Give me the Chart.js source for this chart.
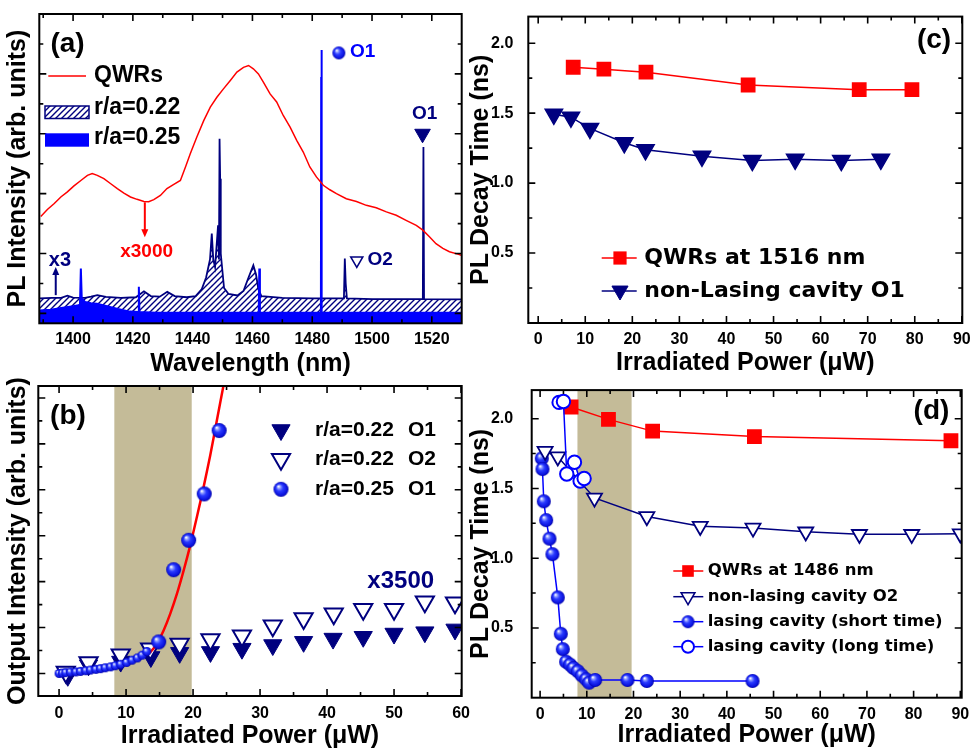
<!DOCTYPE html>
<html><head><meta charset="utf-8">
<script src="https://cdn.jsdelivr.net/npm/chart.js@4.4.1/dist/chart.umd.min.js"></script>
<style>
html,body{margin:0;padding:0;background:#fff;overflow:hidden;width:970px;height:748px;position:relative;}
canvas{position:absolute;}
</style></head><body>
<canvas id="ca" width="485" height="380" style="left:0;top:0"></canvas>
<canvas id="cc" width="520" height="380" style="left:460px;top:0"></canvas>
<canvas id="cb" width="485" height="378" style="left:0;top:370px"></canvas>
<canvas id="cd" width="520" height="378" style="left:460px;top:370px"></canvas>
<script>
// ================= DATA =================
// Panel (a): PL spectra (wavelength nm, intensity arb. units)
const qwrWl = [1389.2,1391.4,1393.7,1395.9,1398.1,1400.3,1402.6,1404.8,1406.4,1408.1,1410.3,1412.6,1414.8,1417.0,1419.2,1421.4,1423.7,1425.3,1427.0,1429.2,1431.4,1433.7,1435.9,1437.6,1439.2,1441.4,1443.7,1445.9,1448.1,1450.3,1452.6,1454.8,1457.0,1458.7,1460.3,1462.0,1463.7,1465.9,1468.1,1470.3,1472.6,1474.8,1477.0,1479.2,1481.4,1483.7,1485.9,1488.1,1491.4,1494.8,1498.1,1501.4,1504.8,1508.1,1511.4,1514.8,1517.0,1519.2,1521.4,1523.7,1525.9,1528.7,1529.9];
const qwrInt = [3.24,3.47,3.67,3.89,4.06,4.26,4.44,4.61,4.67,4.61,4.50,4.33,4.17,4.02,3.89,3.81,3.74,3.73,3.80,3.94,4.17,4.31,4.44,4.89,5.33,5.89,6.44,6.89,7.22,7.50,7.78,8.06,8.22,8.28,8.17,8.00,7.72,7.33,7.06,6.61,6.22,5.78,5.39,4.89,4.56,4.28,4.13,4.00,3.83,3.74,3.61,3.53,3.39,3.28,3.11,2.94,2.78,2.56,2.33,2.17,2.06,1.98,1.94];
const r022Wl = [1388.7,1393,1396,1398.1,1400,1404,1406,1408.1,1411,1416,1421,1423.7,1426,1429,1431.5,1434,1438,1441,1443,1444.5,1445.8,1446.4,1446.9,1447.5,1448.5,1448.8,1449.0,1449.2,1449.4,1450.5,1452,1455,1457,1458.5,1460.3,1461.2,1462,1463,1470,1480,1490.6,1490.9,1491.2,1491.6,1500,1510,1517.0,1517.2,1517.4,1530];
const r022Int = [0.50,0.52,0.52,0.59,0.53,0.52,0.56,0.61,0.55,0.52,0.54,0.74,0.58,0.56,0.72,0.58,0.54,0.58,0.80,1.20,1.80,2.67,1.80,1.55,2.94,1.80,5.83,4.50,2.00,0.85,0.65,0.60,0.75,1.15,1.61,1.30,0.80,0.58,0.52,0.50,0.50,1.83,1.00,0.50,0.48,0.48,0.48,5.56,0.48,0.47];
const r025Wl = [1388.7,1392.6,1396,1400,1402.3,1402.6,1402.9,1404,1406,1408,1411,1415,1419,1421.8,1422.0,1422.2,1428,1462.1,1462.3,1462.5,1482.9,1483.0,1483.1,1483.2,1530];
const r025Int = [0.10,0.12,0.18,0.24,0.28,1.50,0.50,0.38,0.34,0.32,0.25,0.15,0.06,0.05,0.89,0.05,0.02,0.02,1.50,0.02,0.02,7.90,8.80,0.02,0.02];
const aXLabels = [1400,1420,1440,1460,1480,1500,1520];
const aXMinor = [1390,1410,1430,1450,1470,1490,1510];
const aYMajor = [0,2,4,6,8];
const aYMinor = [1,3,5,7,9];

// Panel (b): output intensity vs irradiated power
const bSph025Px = [0,0.5,1,1.7,2.5,3.2,4,4.7,5.5,6.2,6.9,7.7,8.4,9.2,10.1,10.9,11.7,12.4,13.1];
const bSph025Int = [0,0.1,0.2,0.3,0.35,0.45,0.6,0.75,0.9,1.05,1.25,1.45,1.7,2.0,2.4,2.9,3.4,4.0,4.8];
const bBig025Px = [14.87,17.1,19.34,21.67,23.9];
const bBig025Int = [6.88,22.6,29.0,39.1,52.9];
const bFitPx = [13.5,13.88,14.63,15.62,16.6,17.6,18.6,19.58,20.57,21.57,22.56,23.55,24.54];
const bFitInt = [4.5,5.07,6.52,9.42,13.04,17.39,22.46,27.9,34.06,40.58,47.46,55.07,62.68];
const bO1Px = [1.3,4.4,9.2,13.7,18.0,22.6,27.3,31.9,36.5,40.9,45.4,50.0,54.6,59.1];
const bO1Int = [-0.5,1.8,2.6,3.6,4.5,4.7,5.4,6.2,6.9,7.6,8.0,8.7,9.0,9.6];
const bO2Px = [1.0,4.4,9.2,13.6,18.0,22.6,27.3,31.9,36.5,41.0,45.4,50.0,54.6,59.1];
const bO2Int = [0.3,2.4,4.1,5.4,6.4,7.4,8.2,10.4,12.0,13.0,14.0,14.0,15.6,15.4];
const bShade = [8.25, 19.8];
const bXLabels = [0,10,20,30,40,50,60];
const bXMinor = [5,15,25,35,45,55];
const bYMajor = [0,10,20,30,40,50,60];
const bYMinor = [5,15,25,35,45,55];

// Panel (c): PL decay time vs power
const cQwrPx = [7.44,13.96,22.9,44.6,68.2,79.4];
const cQwrT = [1.828,1.814,1.793,1.701,1.668,1.668];
const cO1Px = [3.33,6.95,10.99,18.3,22.8,34.8,45.5,54.6,64.4,72.8];
const cO1T = [1.492,1.471,1.391,1.288,1.238,1.191,1.161,1.170,1.161,1.170];

// Panel (d): PL decay time vs power
const dQwrPx = [6.64,14.64,24.1,45.9,88.0];
const dQwrT = [2.084,1.995,1.911,1.872,1.842];
const dO2Px = [1.07,3.79,11.64,22.86,34.3,45.6,56.9,68.4,79.6,90.0];
const dO2T = [1.767,1.727,1.432,1.299,1.229,1.217,1.189,1.171,1.171,1.175];
const dShortPx = [0.36,0.5,0.79,1.29,2.0,2.64,3.79,4.43,4.86,5.57,6.43,7.14,8.07,8.93,9.86,10.5,11.79,18.71,22.86,45.5];
const dShortT = [1.716,1.639,1.408,1.273,1.140,1.029,0.719,0.458,0.348,0.258,0.237,0.213,0.190,0.160,0.132,0.108,0.127,0.127,0.120,0.120];
const dLongPx = [4.07,5.0,5.71,7.36,8.57,9.43];
const dLongT = [2.117,2.123,1.604,1.688,1.553,1.571];
const dShade = [8.0, 19.6];

const cdXLabels = [0,10,20,30,40,50,60,70,80,90];
const cdXMinor = [5,15,25,35,45,55,65,75,85];
const cdYLabels = [0.5,1.0,1.5,2.0];
const cdYMinor = [0.25,0.75,1.25,1.75];

// ================= STYLE =================
const NAVY = '#00007f', BLUE = '#0000ff', RED = '#ff0000', SHADE = '#c4bb98';
const ARIAL = '"Liberation Sans", Arial, sans-serif';
const VERD = '"DejaVu Sans", Verdana, sans-serif';
const tickFont = { family: ARIAL, size: 16, weight: 'bold' };
const titleFont = { family: ARIAL, size: 25, weight: 'bold', lineHeight: 1 };

const pts = (xs, ys) => xs.map((x, i) => ({ x: x, y: ys[i] }));

function makeSphere(r) {
  const c = document.createElement('canvas');
  const s = Math.ceil(2 * r + 2);
  c.width = s; c.height = s;
  const g = c.getContext('2d');
  const cx = s / 2, cy = s / 2;
  const grad = g.createRadialGradient(cx - 0.35 * r, cy - 0.4 * r, 0.05 * r, cx, cy, r);
  grad.addColorStop(0, '#ffffff');
  grad.addColorStop(0.2, '#8a98ff');
  grad.addColorStop(0.45, '#2a3aff');
  grad.addColorStop(0.85, '#0a12dd');
  grad.addColorStop(1, '#0000a0');
  g.fillStyle = grad;
  g.beginPath(); g.arc(cx, cy, r, 0, Math.PI * 2); g.fill();
  return c;
}
function makeHatchCanvas() {
  const c = document.createElement('canvas');
  c.width = 6; c.height = 6;
  const g = c.getContext('2d');
  g.fillStyle = '#fff'; g.fillRect(0, 0, 6, 6);
  g.strokeStyle = NAVY; g.lineWidth = 1.4;
  g.beginPath();
  g.moveTo(-1, 7); g.lineTo(7, -1);
  g.moveTo(-1, 1); g.lineTo(1, -1);
  g.moveTo(5, 7); g.lineTo(7, 5);
  g.stroke();
  return c;
}
const sphSmall = makeSphere(4.5), sphBig = makeSphere(7.5), sphD = makeSphere(7), sphLeg = makeSphere(6.5);
const hatchCanvas = makeHatchCanvas();
const hatchPattern = document.getElementById('ca').getContext('2d').createPattern(hatchCanvas, 'repeat');

function downTri(ctx, x, y, r, fill, stroke, lw) {
  ctx.beginPath();
  ctx.moveTo(x, y + r);
  ctx.lineTo(x - 0.866 * r, y - 0.5 * r);
  ctx.lineTo(x + 0.866 * r, y - 0.5 * r);
  ctx.closePath();
  if (fill) { ctx.fillStyle = fill; ctx.fill(); }
  if (stroke) { ctx.strokeStyle = stroke; ctx.lineWidth = lw; ctx.stroke(); }
}
function txt(ctx, s, x, y, font, color, align) {
  ctx.font = font; ctx.fillStyle = color; ctx.textAlign = align || 'left'; ctx.textBaseline = 'middle';
  ctx.fillText(s, x, y);
}
function img(ctx, im, x, y) { ctx.drawImage(im, x - im.width / 2, y - im.height / 2); }

function framePlugin(cfg) {
  return {
    id: 'frame' + Math.random().toString(36).slice(2),
    beforeDatasetsDraw(chart) {
      if (!cfg.shade) return;
      const { ctx, chartArea: a, scales: { x } } = chart;
      const x1 = x.getPixelForValue(cfg.shade[0]), x2 = x.getPixelForValue(cfg.shade[1]);
      ctx.save(); ctx.fillStyle = SHADE; ctx.fillRect(x1, a.top, x2 - x1, a.bottom - a.top); ctx.restore();
    },
    afterDatasetsDraw(chart) {
      const { ctx, chartArea: a, scales: { x, y } } = chart;
      ctx.save();
      ctx.strokeStyle = '#000'; ctx.lineWidth = 1.6;
      const MJ = 7, MN = 4;
      const xt = (vals, len) => vals.forEach(v => {
        const p = x.getPixelForValue(v);
        ctx.beginPath(); ctx.moveTo(p, a.bottom); ctx.lineTo(p, a.bottom - len);
        ctx.moveTo(p, a.top); ctx.lineTo(p, a.top + len); ctx.stroke();
      });
      const yt = (vals, len) => vals.forEach(v => {
        const p = y.getPixelForValue(v);
        ctx.beginPath(); ctx.moveTo(a.left, p); ctx.lineTo(a.left + len, p);
        ctx.moveTo(a.right, p); ctx.lineTo(a.right - len, p); ctx.stroke();
      });
      xt(cfg.xMajor, MJ); xt(cfg.xMinor, MN); yt(cfg.yMajor, MJ); yt(cfg.yMinor, MN);
      ctx.lineWidth = 2;
      ctx.strokeRect(a.left, a.top, a.right - a.left, a.bottom - a.top);
      ctx.restore();
    },
    afterDraw(chart) { if (cfg.draw) { chart.ctx.save(); cfg.draw(chart); chart.ctx.restore(); } }
  };
}

function scalesCfg(o) {
  return {
    x: {
      type: 'linear', min: o.xmin, max: o.xmax,
      grid: { display: false }, border: { display: false },
      ticks: { font: tickFont, color: '#000', padding: o.xpad, maxRotation: 0, autoSkip: false, callback: v => String(v) },
      afterBuildTicks: s => { s.ticks = o.xLabels.map(v => ({ value: v })); },
      afterFit: s => { s.height = o.xh; },
      title: { display: true, text: o.xtitle, font: titleFont, color: '#000', padding: { top: 0, bottom: o.xtpad } }
    },
    y: {
      type: 'linear', min: o.ymin, max: o.ymax,
      grid: { display: false }, border: { display: false },
      ticks: { display: !!o.yLabels, font: tickFont, color: '#000', padding: o.ypad || 0, callback: v => Number(v).toFixed(1) },
      afterBuildTicks: s => { s.ticks = (o.yLabels || []).map(v => ({ value: v })); },
      afterFit: s => { s.width = o.yw; },
      title: { display: true, text: o.ytitle, font: titleFont, color: '#000', padding: { top: o.ytpad, bottom: 0 } }
    }
  };
}
const common = (padding) => ({
  responsive: false, animation: false, devicePixelRatio: 1, events: [],
  layout: { padding: padding },
  plugins: { legend: { display: false }, tooltip: { enabled: false } }
});

// ================= PANEL (a) =================
new Chart(document.getElementById('ca'), {
  type: 'line',
  data: { datasets: [
    { data: pts(qwrWl, qwrInt), borderColor: RED, borderWidth: 1.5, pointRadius: 0, fill: false, tension: 0 },
    { data: pts(r025Wl, r025Int), borderColor: BLUE, backgroundColor: BLUE, borderWidth: 2, pointRadius: 0, fill: 'start', tension: 0 },
    { data: pts(r022Wl, r022Int), borderColor: NAVY, backgroundColor: hatchPattern, borderWidth: 1.8, pointRadius: 0, fill: 'start', tension: 0 }
  ]},
  options: Object.assign(common({ left: 0, top: 14, right: 23.3, bottom: 0 }), {
    scales: scalesCfg({ xmin: 1388.7, xmax: 1530, xLabels: aXLabels, xpad: -1.5, xh: 56.7, xtitle: 'Wavelength (nm)', xtpad: 3.5,
      ymin: -0.33, ymax: 10, yw: 39.3, ytitle: 'PL Intensity (arb. units)', ytpad: 5.5 })
  }),
  plugins: [framePlugin({ xMajor: aXLabels, xMinor: aXMinor, yMajor: aYMajor, yMinor: aYMinor,
    draw(chart) {
      const ctx = chart.ctx, X = chart.scales.x, Y = chart.scales.y;
      const px = v => X.getPixelForValue(v), py = v => Y.getPixelForValue(v);
      const F = s => 'bold ' + s + 'px ' + ARIAL;
      txt(ctx, '(a)', 67.5, 44, F(28), '#000', 'center');
      // legend
      ctx.strokeStyle = RED; ctx.lineWidth = 1.5;
      ctx.beginPath(); ctx.moveTo(48.3, 76); ctx.lineTo(86, 76); ctx.stroke();
      txt(ctx, 'QWRs', 94, 76, F(23), '#000');
      ctx.fillStyle = hatchPattern; ctx.fillRect(45, 106, 44, 12.5);
      ctx.strokeStyle = NAVY; ctx.lineWidth = 1.5; ctx.strokeRect(45, 106, 44, 12.5);
      txt(ctx, 'r/a=0.22', 94, 108, F(23), '#000');
      ctx.fillStyle = BLUE; ctx.fillRect(45, 133.3, 44, 13.4);
      txt(ctx, 'r/a=0.25', 94, 138, F(23), '#000');
      // red arrow (x3000)
      ctx.strokeStyle = RED; ctx.fillStyle = RED; ctx.lineWidth = 2;
      const ax = px(1424), ay1 = py(3.71), ay2 = py(2.54);
      ctx.beginPath(); ctx.moveTo(ax, ay1); ctx.lineTo(ax, ay2 - 6); ctx.stroke();
      ctx.beginPath(); ctx.moveTo(ax, ay2); ctx.lineTo(ax - 3.5, ay2 - 8); ctx.lineTo(ax + 3.5, ay2 - 8); ctx.closePath(); ctx.fill();
      txt(ctx, 'x3000', px(1424.6), py(2.05), F(19), RED, 'center');
      // navy arrow (x3)
      ctx.strokeStyle = NAVY; ctx.fillStyle = NAVY;
      const bx = px(1394.2), by1 = py(0.61), by2 = py(1.55);
      ctx.beginPath(); ctx.moveTo(bx, by1); ctx.lineTo(bx, by2 + 6); ctx.stroke();
      ctx.beginPath(); ctx.moveTo(bx, by2); ctx.lineTo(bx - 3.5, by2 + 8); ctx.lineTo(bx + 3.5, by2 + 8); ctx.closePath(); ctx.fill();
      txt(ctx, 'x3', px(1395.6), py(1.78), F(20), NAVY, 'center');
      // mode labels
      img(ctx, sphLeg, px(1488.9), py(8.7));
      txt(ctx, 'O1', px(1492.6), py(8.75), F(19), BLUE);
      txt(ctx, 'O1', px(1517.6), py(6.68), F(19), NAVY, 'center');
      downTri(ctx, px(1516.9), py(6.0), 9, NAVY, NAVY, 1);
      downTri(ctx, px(1494.9), py(1.77), 7, '#fff', NAVY, 1.5);
      txt(ctx, 'O2', px(1498.5), py(1.78), F(19), NAVY);
    } })]
});

// ================= PANEL (b) =================
new Chart(document.getElementById('cb'), {
  type: 'scatter',
  data: { datasets: [
    { data: pts(bSph025Px, bSph025Int), pointStyle: sphSmall, pointRadius: 4.5, showLine: false },
    { data: pts(bBig025Px, bBig025Int), pointStyle: sphBig, pointRadius: 7.5, showLine: false },
    { data: pts(bFitPx, bFitInt), showLine: true, borderColor: RED, borderWidth: 2.5, pointRadius: 0, tension: 0.3 },
    { data: pts(bO2Px, bO2Int), pointStyle: 'triangle', rotation: 180, pointRadius: 10.5, backgroundColor: '#fff', borderColor: NAVY, borderWidth: 2, showLine: false },
    { data: pts(bO1Px, bO1Int), pointStyle: 'triangle', rotation: 180, pointRadius: 10.5, backgroundColor: NAVY, borderColor: NAVY, borderWidth: 1, showLine: false }
  ]},
  options: Object.assign(common({ left: 0, top: 16, right: 23.3, bottom: 0 }), {
    scales: scalesCfg({ xmin: -3.1, xmax: 60.1, xLabels: bXLabels, xpad: -0.5, xh: 52, xtitle: 'Irradiated Power (\u03bcW)', xtpad: -1,
      ymin: -4.9, ymax: 62.6, yw: 38.3, ytitle: 'Output Intensity (arb. units)', ytpad: 5.5 })
  }),
  plugins: [framePlugin({ xMajor: bXLabels, xMinor: bXMinor, yMajor: bYMajor, yMinor: bYMinor, shade: bShade,
    draw(chart) {
      const ctx = chart.ctx, X = chart.scales.x, Y = chart.scales.y;
      const F = s => 'bold ' + s + 'px ' + ARIAL;
      txt(ctx, '(b)', 68, 46, F(28), '#000', 'center');
      downTri(ctx, 281, 60, 10.5, NAVY, NAVY, 1);
      downTri(ctx, 281, 89.3, 10.5, '#fff', NAVY, 2);
      img(ctx, sphBig, 281, 119.3);
      txt(ctx, 'r/a=0.22', 315, 60, F(21), '#000'); txt(ctx, 'O1', 408, 60, F(21), '#000');
      txt(ctx, 'r/a=0.22', 315, 89.3, F(21), '#000'); txt(ctx, 'O2', 408, 89.3, F(21), '#000');
      txt(ctx, 'r/a=0.25', 315, 119.3, F(21), '#000'); txt(ctx, 'O1', 408, 119.3, F(21), '#000');
      txt(ctx, 'x3500', X.getPixelForValue(51.0), Y.getPixelForValue(20.1), F(24), NAVY, 'center');
    } })]
});

// ================= PANEL (c) =================
new Chart(document.getElementById('cc'), {
  type: 'scatter',
  data: { datasets: [
    { data: pts(cQwrPx, cQwrT), showLine: true, borderColor: RED, borderWidth: 1.5, pointStyle: 'rect', pointRadius: 9.4, backgroundColor: RED, pointBorderColor: RED },
    { data: pts(cO1Px, cO1T), showLine: true, borderColor: NAVY, borderWidth: 1.5, pointStyle: 'triangle', rotation: 180, pointRadius: 10, backgroundColor: NAVY, pointBorderColor: NAVY }
  ]},
  options: Object.assign(common({ left: 0, top: 14, right: 17.7, bottom: 0 }), {
    scales: scalesCfg({ xmin: -2.1, xmax: 90.1, xLabels: cdXLabels, xpad: -1.5, xh: 57, xtitle: 'Irradiated Power (\u03bcW)', xtpad: 4.5,
      ymin: 0, ymax: 2.19, yLabels: cdYLabels, ypad: 7, yw: 68.3, ytitle: 'PL Decay Time (ns)', ytpad: 8.5 })
  }),
  plugins: [framePlugin({ xMajor: cdXLabels, xMinor: cdXMinor, yMajor: cdYLabels, yMinor: cdYMinor,
    draw(chart) {
      const ctx = chart.ctx;
      txt(ctx, '(c)', 474, 40, 'bold 28px ' + ARIAL, '#000', 'center');
      const LF = 'bold 22px ' + VERD;
      ctx.lineWidth = 1.5;
      ctx.strokeStyle = RED; ctx.beginPath(); ctx.moveTo(141.7, 258); ctx.lineTo(176.7, 258); ctx.stroke();
      ctx.fillStyle = RED; ctx.fillRect(160 - 6.6, 258 - 6.6, 13.2, 13.2);
      txt(ctx, 'QWRs at 1516 nm', 184.3, 258, LF, '#000');
      ctx.strokeStyle = NAVY; ctx.beginPath(); ctx.moveTo(141.7, 291); ctx.lineTo(176.7, 291); ctx.stroke();
      downTri(ctx, 160, 290.7, 9.3, NAVY, NAVY, 1);
      txt(ctx, 'non-Lasing cavity O1', 184.3, 291, LF, '#000');
    } })]
});

// ================= PANEL (d) =================
new Chart(document.getElementById('cd'), {
  type: 'scatter',
  data: { datasets: [
    { data: pts(dLongPx, dLongT), showLine: true, borderColor: BLUE, borderWidth: 1.5, pointStyle: 'circle', pointRadius: 6.7, backgroundColor: '#fff', pointBorderColor: BLUE, pointBorderWidth: 2 },
    { data: pts(dO2Px, dO2T), showLine: true, borderColor: NAVY, borderWidth: 1.5, pointStyle: 'triangle', rotation: 180, pointRadius: 8.7, backgroundColor: '#fff', pointBorderColor: NAVY, pointBorderWidth: 1.8 },
    { data: pts(dShortPx, dShortT), showLine: true, borderColor: BLUE, borderWidth: 1.5, pointStyle: sphD, pointRadius: 7 },
    { data: pts(dQwrPx, dQwrT), showLine: true, borderColor: RED, borderWidth: 1.5, pointStyle: 'rect', pointRadius: 9.4, backgroundColor: RED, pointBorderColor: RED }
  ]},
  options: Object.assign(common({ left: 0, top: 13.3, right: 18.3, bottom: 0 }), {
    scales: scalesCfg({ xmin: -1.8, xmax: 90.3, xLabels: cdXLabels, xpad: -0.5, xh: 50.3, xtitle: 'Irradiated Power (\u03bcW)', xtpad: 0,
      ymin: 0, ymax: 2.205, yLabels: cdYLabels, ypad: 10.5, yw: 71.7, ytitle: 'PL Decay Time (ns)', ytpad: 8.5 })
  }),
  plugins: [framePlugin({ xMajor: cdXLabels, xMinor: cdXMinor, yMajor: cdYLabels, yMinor: cdYMinor, shade: dShade,
    draw(chart) {
      const ctx = chart.ctx;
      txt(ctx, '(d)', 471.5, 41.7, 'bold 28px ' + ARIAL, '#000', 'center');
      const LF = 'bold 16.5px ' + VERD;
      const rows = [201, 226.7, 251.7, 276.7];
      const cols = [RED, NAVY, BLUE, BLUE];
      const labels = ['QWRs at 1486 nm', 'non-lasing cavity O2', 'lasing cavity (short time)', 'lasing cavity (long time)'];
      rows.forEach((ry, i) => {
        ctx.strokeStyle = cols[i]; ctx.lineWidth = 1.5;
        ctx.beginPath(); ctx.moveTo(213.3, ry); ctx.lineTo(243.3, ry); ctx.stroke();
        txt(ctx, labels[i], 247.7, ry, LF, '#000');
      });
      ctx.fillStyle = RED; ctx.fillRect(228 - 5.8, rows[0] - 5.8, 11.6, 11.6);
      downTri(ctx, 228, rows[1], 8, '#fff', NAVY, 1.5);
      img(ctx, sphLeg, 228, rows[2]);
      ctx.beginPath(); ctx.arc(228, rows[3], 6, 0, Math.PI * 2); ctx.fillStyle = '#fff'; ctx.fill();
      ctx.strokeStyle = BLUE; ctx.lineWidth = 2; ctx.stroke();
    } })]
});
</script>
</body></html>
